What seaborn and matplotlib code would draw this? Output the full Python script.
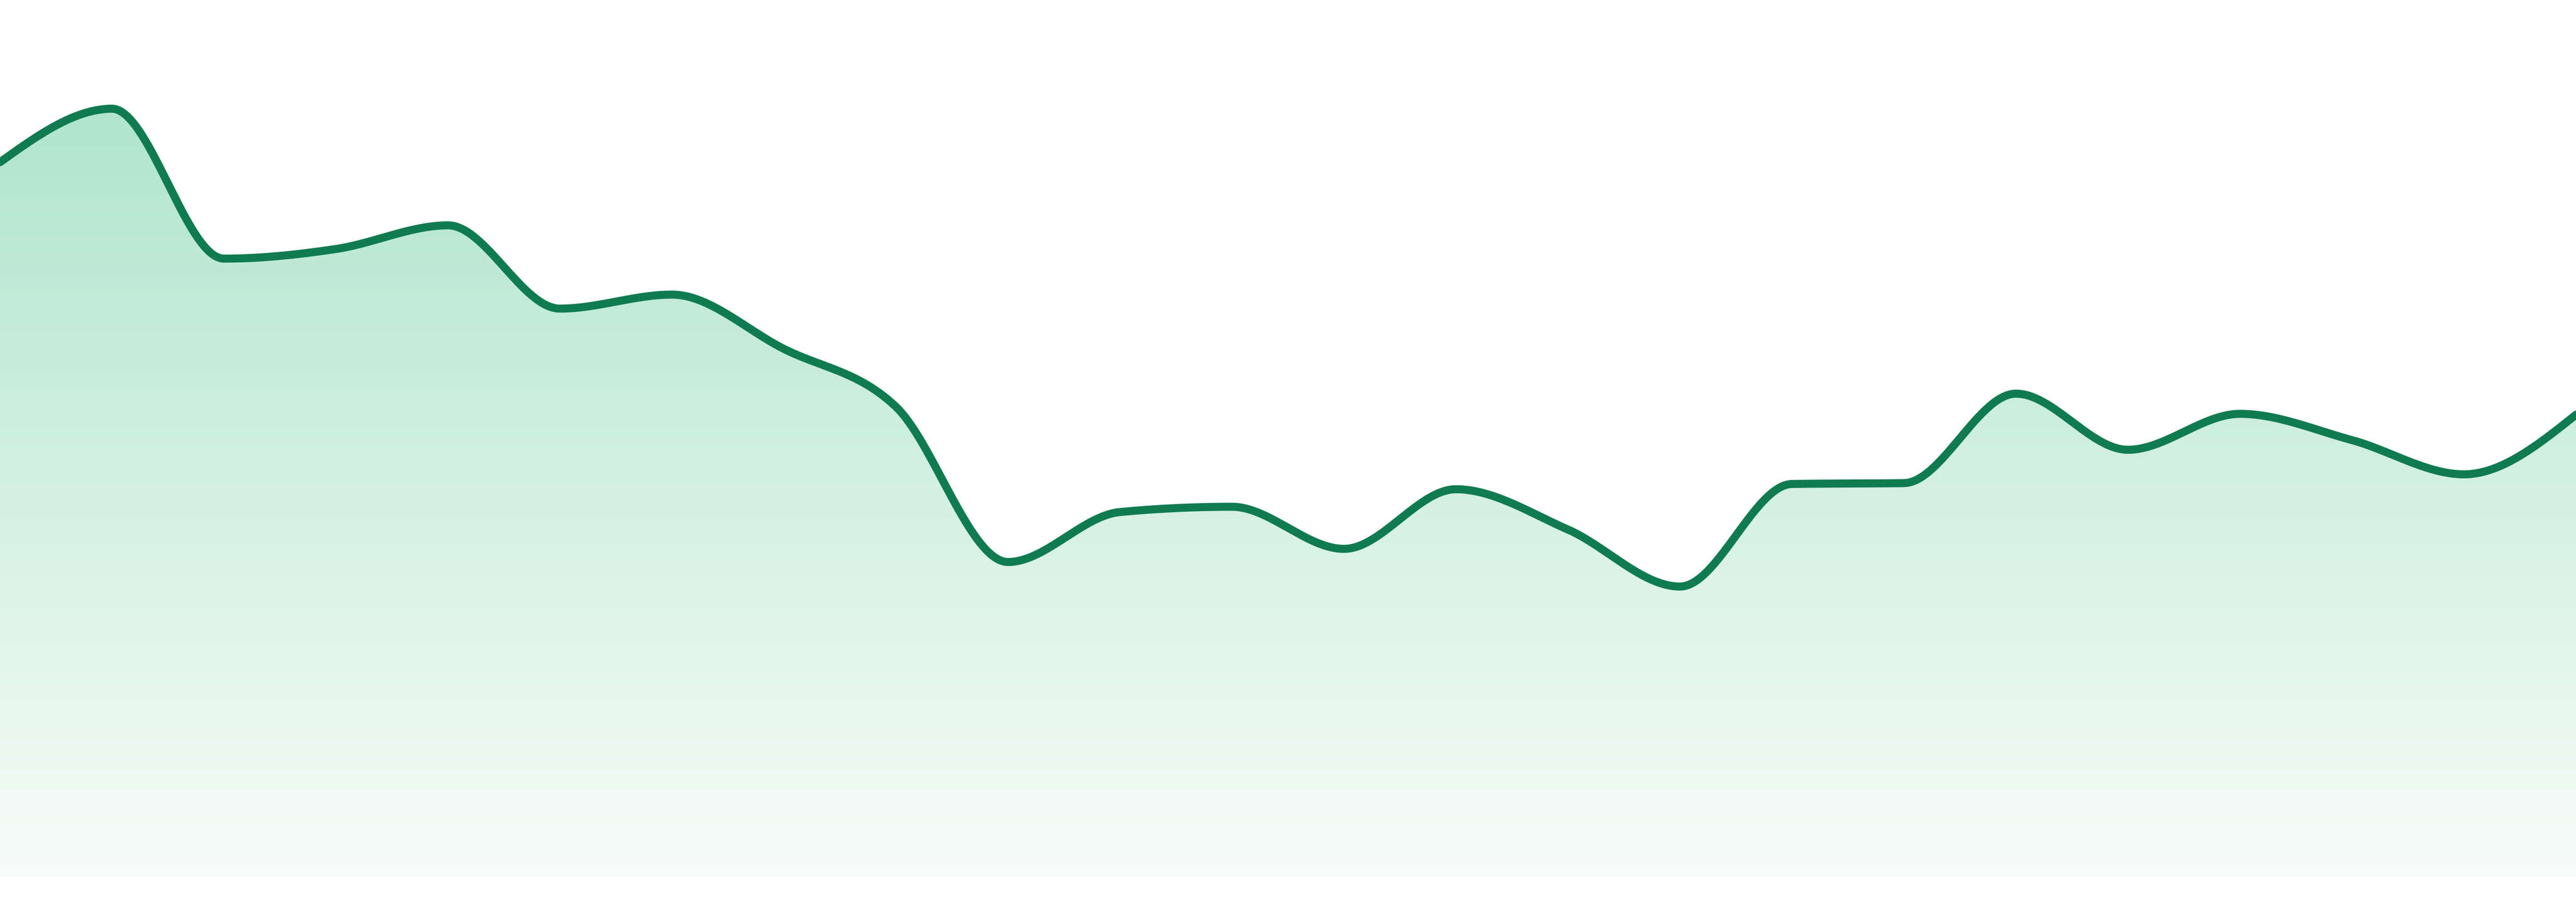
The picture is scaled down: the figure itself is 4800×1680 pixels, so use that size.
import numpy as np
import pandas as pd
import matplotlib
matplotlib.use("Agg")
import matplotlib.pyplot as plt
import seaborn as sns

# values, one per day
days = list(range(24))
values = [81.5, 87.6, 70.5, 71.6, 74.3, 64.8, 66.4, 60.2, 53.6, 35.9, 41.6, 42.2,
          37.4, 44.2, 39.6, 33.1, 44.8, 44.9, 55.1, 48.7, 52.8, 49.8, 45.9, 52.7]

line_color = "#117b50"
fill_top = "#b0e5cd"
fill_bottom = "#f8fcfa"


def monotone_x(xs, ys, steps=60):
    # same smoothing as d3.curveMonotoneX
    xs = np.asarray(xs, dtype=float)
    ys = np.asarray(ys, dtype=float)
    n = len(xs)
    h = np.diff(xs)
    s = np.diff(ys) / h
    t = np.zeros(n)
    for i in range(1, n - 1):
        h0, h1 = h[i - 1], h[i]
        s0, s1 = s[i - 1], s[i]
        p = (s0 * h1 + s1 * h0) / (h0 + h1)
        sg = (-1 if s0 < 0 else 1) + (-1 if s1 < 0 else 1)
        t[i] = sg * min(abs(s0), abs(s1), 0.5 * abs(p))
    t[0] = (3 * s[0] - t[1]) / 2
    t[-1] = (3 * s[-1] - t[-2]) / 2

    out_x, out_y = [], []
    for i in range(n - 1):
        u = np.linspace(0, 1, steps, endpoint=(i == n - 2))
        h00 = 2 * u**3 - 3 * u**2 + 1
        h10 = u**3 - 2 * u**2 + u
        h01 = -2 * u**3 + 3 * u**2
        h11 = u**3 - u**2
        out_x.append(xs[i] + u * h[i])
        out_y.append(h00 * ys[i] + h10 * h[i] * t[i] + h01 * ys[i + 1] + h11 * h[i] * t[i + 1])
    return np.concatenate(out_x), np.concatenate(out_y)


sx, sy = monotone_x(days, values)
curve = pd.DataFrame({"day": sx, "value": sy})

sns.set_theme(style="white")

fig = plt.figure(figsize=(16, 5.6), dpi=300)
ax = fig.add_axes([0, 47 / 1680, 1, 1633 / 1680])

# gradient fill under the line
poly = ax.fill_between(curve["day"], curve["value"], 0, color="none", lw=0)
top = np.array(matplotlib.colors.to_rgb(fill_top))
bottom = np.array(matplotlib.colors.to_rgb(fill_bottom))
k = np.linspace(0, 1, 512)[:, None]
grad = (bottom + (top - bottom) * k)[:, None, :]
im = ax.imshow(grad, extent=[0, days[-1], 0, max(values)], origin="lower",
               aspect="auto", zorder=1, interpolation="bilinear")
im.set_clip_path(poly.get_paths()[0], transform=ax.transData)

sns.lineplot(data=curve, x="day", y="value", color=line_color, linewidth=3.6,
             estimator=None, sort=False, ax=ax, zorder=3)

ax.set_xlim(days[0], days[-1])
ax.set_ylim(0, 100)
ax.set_axis_off()

fig.savefig("out.png", dpi=300, facecolor="white")
